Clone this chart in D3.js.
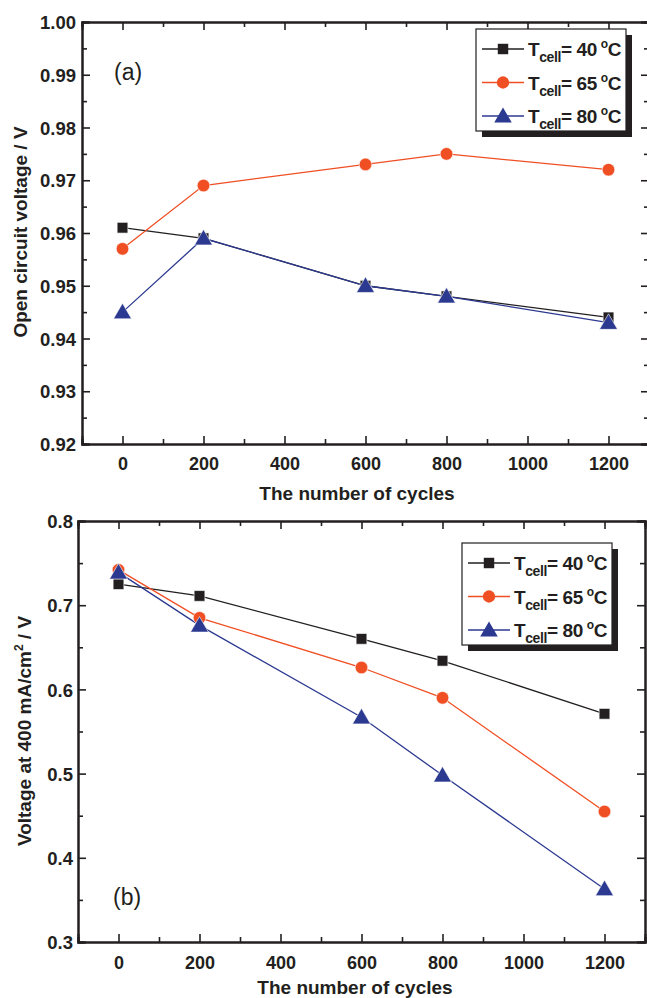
<!DOCTYPE html>
<html>
<head>
<meta charset="utf-8">
<script src="https://cdn.jsdelivr.net/npm/d3@7"></script>
<style>
  body { margin: 0; background: #fff; }
  svg { display: block; }
  text { font-family: "Liberation Sans", Arial, sans-serif; fill: #231f20; }
</style>
</head>
<body>
<svg id="chart" width="647" height="998"></svg>
<script>
// Cycle counts (x values shared by both panels)
const cycles = [0, 200, 600, 800, 1200];
const cellTemps = ["40", "65", "80"];

// (a) Open circuit voltage / V
const ocv40 = [0.961, 0.959, 0.950, 0.948, 0.944];
const ocv65 = [0.957, 0.969, 0.973, 0.975, 0.972];
const ocv80 = [0.945, 0.959, 0.950, 0.948, 0.943];

// (b) Voltage at 400 mA/cm2 / V
const v400_40 = [0.725, 0.711, 0.660, 0.634, 0.571];
const v400_65 = [0.742, 0.685, 0.626, 0.590, 0.455];
const v400_80 = [0.739, 0.676, 0.567, 0.498, 0.363];

// Tick values
const xTicks = [0, 200, 400, 600, 800, 1000, 1200];
const xMinor = [-100, 100, 300, 500, 700, 900, 1100, 1300];
const ocvTicks = [0.92, 0.93, 0.94, 0.95, 0.96, 0.97, 0.98, 0.99, 1.00];
const v400Ticks = [0.3, 0.4, 0.5, 0.6, 0.7, 0.8];

const colors = ["#231f20", "#f04e23", "#2b3990"];
const symbols = [d3.symbolSquare, d3.symbolCircle, d3.symbolTriangle];
const symbolSizes = [115, 125, 140];
const ink = "#231f20";

const svg = d3.select("#chart");

function drawPanel(cfg) {
  const x = d3.scaleLinear().domain([-100, 1300]).range([cfg.left, cfg.right]);
  const y = d3.scaleLinear().domain(cfg.yDomain).range([cfg.bottom, cfg.top]);
  const g = svg.append("g");

  // minor y ticks halfway between the labelled ones
  const yMinor = [];
  for (let i = 0; i < cfg.yTicks.length - 1; i++) {
    yMinor.push((cfg.yTicks[i] + cfg.yTicks[i + 1]) / 2);
  }

  // frame: left & bottom carry labels, right & top only inward ticks
  const left = d3.axisRight(y).tickValues(cfg.yTicks).tickSize(8).tickFormat(cfg.yFormat);
  const leftMinor = d3.axisRight(y).tickValues(yMinor).tickSize(5).tickFormat("");
  const right = d3.axisLeft(y).tickValues(cfg.yTicks).tickSize(8).tickFormat("");
  const rightMinor = d3.axisLeft(y).tickValues(yMinor).tickSize(5).tickFormat("");
  const bottom = d3.axisTop(x).tickValues(xTicks).tickSize(8).tickFormat(d3.format("d"));
  const bottomMinor = d3.axisTop(x).tickValues(xMinor).tickSize(5).tickFormat("");
  const top = d3.axisBottom(x).tickValues(xTicks).tickSize(8).tickFormat("");
  const topMinor = d3.axisBottom(x).tickValues(xMinor).tickSize(5).tickFormat("");

  const ax = (a, tx, ty) => g.append("g").attr("transform", `translate(${tx},${ty})`).call(a);

  const gl = ax(left, cfg.left, 0);
  ax(leftMinor, cfg.left, 0);
  ax(right, cfg.right, 0);
  ax(rightMinor, cfg.right, 0);
  const gb = ax(bottom, 0, cfg.bottom);
  ax(bottomMinor, 0, cfg.bottom);
  ax(top, 0, cfg.top);
  ax(topMinor, 0, cfg.top);

  g.selectAll(".domain").attr("stroke", ink).attr("stroke-width", 2);
  g.selectAll(".tick line").attr("stroke", ink).attr("stroke-width", 1.6);

  gl.selectAll(".tick text")
    .attr("x", cfg.yLabelX - cfg.left).attr("dy", "0.36em")
    .attr("text-anchor", "end")
    .style("font-size", "18.5px").style("font-weight", "bold").style("font-family", "Liberation Sans, Arial, sans-serif")
    .attr("fill", ink);
  gb.selectAll(".tick text")
    .attr("y", cfg.xLabelY - cfg.bottom).attr("dy", "0")
    .style("font-size", "18px").style("font-weight", "bold").style("font-family", "Liberation Sans, Arial, sans-serif")
    .attr("fill", ink);

  // series lines, then markers on top
  const line = d3.line().x((d, i) => x(cycles[i])).y(d => y(d));
  cfg.series.forEach((vals, k) => {
    g.append("path").datum(vals)
      .attr("d", line).attr("fill", "none")
      .attr("stroke", colors[k]).attr("stroke-width", 1.3);
  });
  cfg.series.forEach((vals, k) => {
    g.selectAll(null).data(vals).enter().append("path")
      .attr("d", d3.symbol().type(symbols[k]).size(symbolSizes[k]))
      .attr("transform", (d, i) => `translate(${x(cycles[i])},${y(d) + (k === 2 ? 1.5 : 0)})`)
      .attr("fill", colors[k]).attr("stroke", "#fff").attr("stroke-width", 0.6);
  });

  // axis titles
  g.append("text")
    .attr("x", cfg.xTitleX).attr("y", cfg.xTitleY)
    .attr("text-anchor", "middle")
    .style("font-size", "19px").style("font-weight", "bold")
    .text("The number of cycles");

  const yt = g.append("text")
    .attr("transform", `translate(${cfg.yTitleX},${cfg.yTitleY}) rotate(-90)`)
    .attr("text-anchor", "middle")
    .style("font-size", "19px").style("font-weight", "bold");
  cfg.yTitle(yt);

  // panel tag
  g.append("text")
    .attr("x", cfg.tagX).attr("y", cfg.tagY)
    .style("font-size", "23px")
    .text(cfg.tag);

  // legend with drop shadow
  const L = cfg.legend;
  g.append("rect")
    .attr("x", L.x + 6).attr("y", L.y + 6).attr("width", L.w).attr("height", L.h)
    .attr("fill", ink);
  g.append("rect")
    .attr("x", L.x).attr("y", L.y).attr("width", L.w).attr("height", L.h)
    .attr("fill", "#fff").attr("stroke", ink).attr("stroke-width", 1.2);
  cellTemps.forEach((t, k) => {
    const ry = L.y + L.row0 + k * L.rowStep;
    g.append("line")
      .attr("x1", L.x + 6).attr("x2", L.x + 48).attr("y1", ry).attr("y2", ry)
      .attr("stroke", colors[k]).attr("stroke-width", 1.3);
    g.append("path")
      .attr("d", d3.symbol().type(symbols[k]).size(symbolSizes[k] * 0.95))
      .attr("transform", `translate(${L.x + 27},${ry + (k === 2 ? 1.5 : 0)})`)
      .attr("fill", colors[k]);
    const tx = g.append("text")
      .attr("x", L.x + 52).attr("y", ry + 7)
      .style("font-size", "19px").style("font-weight", "bold")
      .style("letter-spacing", "-0.4px");
    tx.append("tspan").text("T");
    tx.append("tspan").attr("dy", 6).style("font-size", "14px").text("cell");
    tx.append("tspan").attr("dy", -6).text("= " + t + " ");
    tx.append("tspan").attr("dy", -8).attr("dx", -1).style("font-size", "12px").text("o");
    tx.append("tspan").attr("dy", 8).text("C");
  });
}

// (a) panel
drawPanel({
  left: 82, right: 649, top: 22, bottom: 444,
  yDomain: [0.92, 1.00], yTicks: ocvTicks, yFormat: d3.format(".2f"),
  yLabelX: 76, xLabelY: 470,
  series: [ocv40, ocv65, ocv80],
  xTitleX: 357, xTitleY: 500,
  yTitleX: 27, yTitleY: 232,
  yTitle: t => t.text("Open circuit voltage / V"),
  tag: "(a)", tagX: 114, tagY: 80,
  legend: { x: 476, y: 29, w: 150, h: 102, row0: 20, rowStep: 33.5 }
});

// (b) panel
drawPanel({
  left: 78, right: 645, top: 521, bottom: 942,
  yDomain: [0.3, 0.8], yTicks: v400Ticks, yFormat: d3.format(".1f"),
  yLabelX: 73, xLabelY: 969,
  series: [v400_40, v400_65, v400_80],
  xTitleX: 355, xTitleY: 994,
  yTitleX: 31, yTitleY: 731,
  yTitle: t => {
    t.append("tspan").text("Voltage at 400 mA/cm");
    t.append("tspan").attr("dy", -8).style("font-size", "12px").text("2");
    t.append("tspan").attr("dy", 8).text(" / V");
  },
  tag: "(b)", tagX: 113, tagY: 905,
  legend: { x: 462, y: 543, w: 150, h: 102, row0: 20, rowStep: 33.5 }
});
</script>
</body>
</html>
